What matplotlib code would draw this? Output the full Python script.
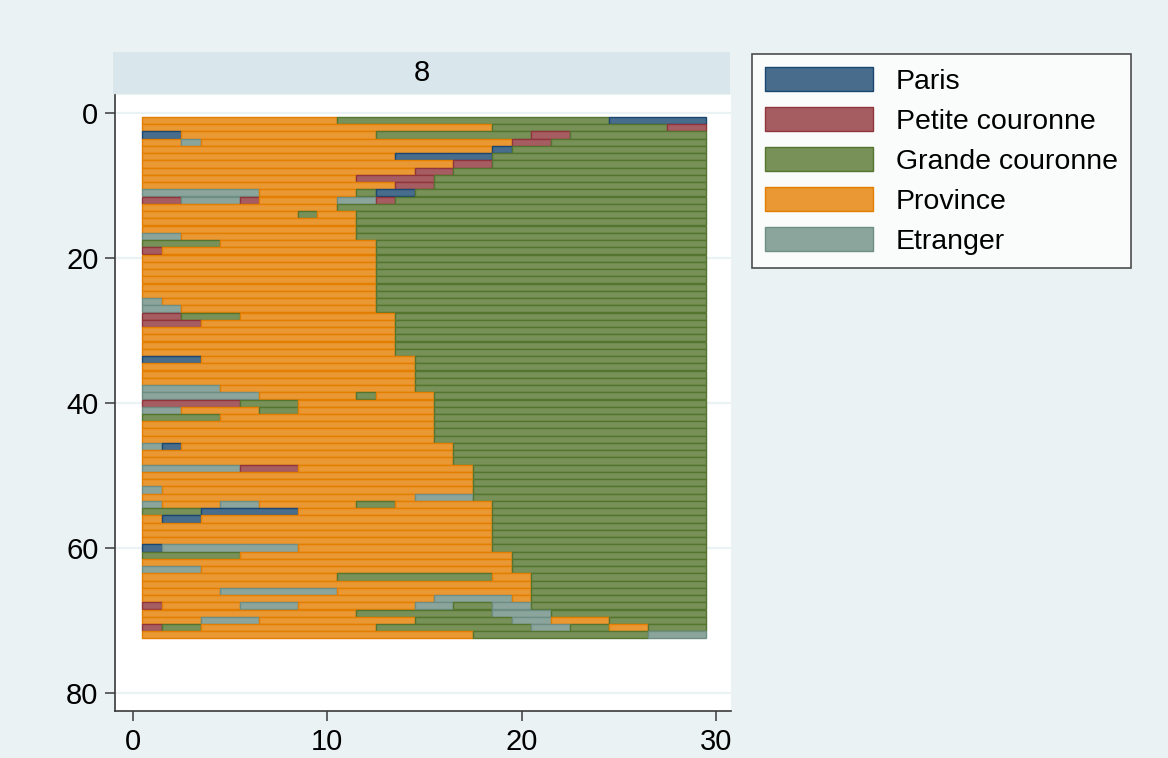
import matplotlib
matplotlib.use("Agg")
from matplotlib import pyplot as plt
from matplotlib.patches import Patch

plt.rcParams['font.family'] = ['Liberation Sans', 'DejaVu Sans']

# etats : 1 Paris, 2 Petite couronne, 3 Grande couronne, 4 Province, 5 Etranger
etats = ["Paris", "Petite couronne", "Grande couronne", "Province", "Etranger"]
remplissage = ["#486c8c", "#a65d62", "#779159", "#e99833", "#8ba59d"]
contour = ["#1a476f", "#90353b", "#55752f", "#e37e00", "#6e8e84"]

# une liste de (etat, duree) par individu, de haut en bas
sequences = [
    [(4, 10), (3, 14), (1, 5)],
    [(4, 18), (3, 9), (2, 2)],
    [(1, 2), (4, 10), (3, 8), (2, 2), (3, 7)],
    [(4, 2), (5, 1), (4, 16), (2, 2), (3, 8)],
    [(4, 18), (1, 1), (3, 10)],
    [(4, 13), (1, 5), (3, 11)],
    [(4, 16), (2, 2), (3, 11)],
    [(4, 14), (2, 2), (3, 13)],
    [(4, 11), (2, 4), (3, 14)],
    [(4, 13), (2, 2), (3, 14)],
    [(5, 6), (4, 5), (3, 1), (1, 2), (3, 15)],
    [(2, 2), (5, 3), (2, 1), (4, 4), (5, 2), (2, 1), (3, 16)],
    [(4, 10), (3, 19)],
    [(4, 8), (3, 1), (4, 2), (3, 18)],
    [(4, 11), (3, 18)],
    [(4, 11), (3, 18)],
    [(5, 2), (4, 9), (3, 18)],
    [(3, 4), (4, 8), (3, 17)],
    [(2, 1), (4, 11), (3, 17)],
    [(4, 12), (3, 17)],
    [(4, 12), (3, 17)],
    [(4, 12), (3, 17)],
    [(4, 12), (3, 17)],
    [(4, 12), (3, 17)],
    [(4, 12), (3, 17)],
    [(5, 1), (4, 11), (3, 17)],
    [(5, 2), (4, 10), (3, 17)],
    [(2, 2), (3, 3), (4, 8), (3, 16)],
    [(2, 3), (4, 10), (3, 16)],
    [(4, 13), (3, 16)],
    [(4, 13), (3, 16)],
    [(4, 13), (3, 16)],
    [(4, 13), (3, 16)],
    [(1, 3), (4, 11), (3, 15)],
    [(4, 14), (3, 15)],
    [(4, 14), (3, 15)],
    [(4, 14), (3, 15)],
    [(5, 4), (4, 10), (3, 15)],
    [(5, 6), (4, 5), (3, 1), (4, 3), (3, 14)],
    [(2, 5), (3, 3), (4, 7), (3, 14)],
    [(5, 2), (4, 4), (3, 2), (4, 7), (3, 14)],
    [(3, 4), (4, 11), (3, 14)],
    [(4, 15), (3, 14)],
    [(4, 15), (3, 14)],
    [(4, 15), (3, 14)],
    [(5, 1), (1, 1), (4, 14), (3, 13)],
    [(4, 16), (3, 13)],
    [(4, 16), (3, 13)],
    [(5, 5), (2, 3), (4, 9), (3, 12)],
    [(4, 17), (3, 12)],
    [(4, 17), (3, 12)],
    [(5, 1), (4, 16), (3, 12)],
    [(4, 14), (5, 3), (3, 12)],
    [(5, 1), (4, 3), (5, 2), (4, 5), (3, 2), (4, 5), (3, 11)],
    [(3, 3), (1, 5), (4, 10), (3, 11)],
    [(4, 1), (1, 2), (4, 15), (3, 11)],
    [(4, 18), (3, 11)],
    [(4, 18), (3, 11)],
    [(4, 18), (3, 11)],
    [(1, 1), (5, 7), (4, 10), (3, 11)],
    [(3, 5), (4, 14), (3, 10)],
    [(4, 19), (3, 10)],
    [(5, 3), (4, 16), (3, 10)],
    [(4, 10), (3, 8), (4, 2), (3, 9)],
    [(4, 20), (3, 9)],
    [(4, 4), (5, 6), (4, 10), (3, 9)],
    [(4, 15), (5, 4), (4, 1), (3, 9)],
    [(2, 1), (4, 4), (5, 3), (4, 6), (5, 2), (3, 2), (5, 2), (3, 9)],
    [(4, 11), (3, 7), (5, 3), (3, 8)],
    [(4, 3), (5, 3), (4, 8), (3, 5), (5, 2), (4, 3), (3, 5)],
    [(2, 1), (3, 2), (4, 9), (3, 8), (5, 2), (3, 2), (4, 2), (3, 3)],
    [(4, 17), (3, 9), (5, 3)],
]

fond = "#eaf2f3"
fig = plt.figure(figsize=(11.68, 7.58), dpi=100, facecolor=fond)
ax = fig.add_axes([0.0985, 0.062, 0.527, 0.8125])
ax.set_facecolor("white")

for i, seq in enumerate(sequences):
    y = i + 1
    debut = 0.5
    for etat, duree in seq:
        ax.barh(y, duree, left=debut, height=0.98,
                color=remplissage[etat - 1], edgecolor=contour[etat - 1],
                linewidth=1.0, zorder=3)
        debut += duree

ax.set_xlim(-0.9, 30.75)
ax.set_ylim(82.5, -2.5)
ax.set_xticks([0, 10, 20, 30])
ax.set_yticks([0, 20, 40, 60, 80])
ax.yaxis.grid(True, color=fond, linewidth=1.6, zorder=0)
ax.set_axisbelow(True)
for s in ["top", "right"]:
    ax.spines[s].set_visible(False)
for s in ["left", "bottom"]:
    ax.spines[s].set_color("#3a3a3a")
    ax.spines[s].set_linewidth(1.2)
ax.tick_params(axis="both", direction="out", length=7, width=1.1,
               color="#3a3a3a", labelsize=21, pad=5)

# bandeau du sous-graphique
bandeau = fig.add_axes([0.0967, 0.876, 0.5283, 0.055])
bandeau.set_facecolor("#d9e6eb")
bandeau.set_xticks([])
bandeau.set_yticks([])
for s in bandeau.spines.values():
    s.set_visible(False)
bandeau.text(0.5, 0.5, "8", ha="center", va="center", fontsize=21)

poignees = [Patch(facecolor=remplissage[k], edgecolor=contour[k], linewidth=1)
            for k in range(len(etats))]
leg = fig.legend(poignees, etats, loc="upper left", bbox_to_anchor=(0.644, 0.929),
                 fontsize=20.5, frameon=True, fancybox=False, handlelength=3.8,
                 handleheight=0.95, handletextpad=0.8, labelspacing=0.42,
                 borderpad=0.45, borderaxespad=0)
leg.get_frame().set_edgecolor("#222222")
leg.get_frame().set_linewidth(1.2)

plt.savefig("out.png", dpi=100, facecolor=fond)
